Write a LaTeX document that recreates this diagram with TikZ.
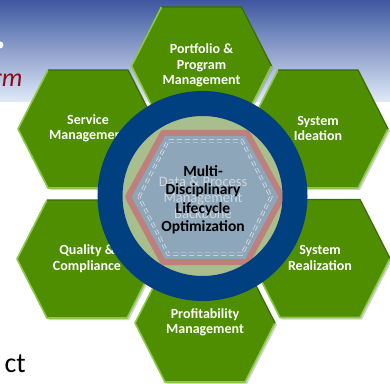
\documentclass[tikz,border=0pt]{standalone}
\usepackage{fontspec}
\setmainfont{Carlito}
\usetikzlibrary{shadows}
\definecolor{hexgreen}{RGB}{78,142,0}
\definecolor{hexlite}{RGB}{140,200,70}
\definecolor{hexdark}{RGB}{58,108,0}
\definecolor{ringblue}{RGB}{0,64,128}
\definecolor{diskgreen}{RGB}{168,190,140}
\definecolor{corefill}{RGB}{142,166,186}
\definecolor{corered}{RGB}{190,128,124}
\definecolor{dashwhite}{RGB}{225,230,236}
\definecolor{skytop}{RGB}{62,88,160}
\definecolor{skylow}{RGB}{224,234,248}
\definecolor{slidered}{RGB}{140,10,25}
\tikzset{hexcell/.style={fill=hexgreen,drop shadow={shadow xshift=2pt,shadow yshift=-2pt,opacity=0.35}}}
\tikzset{hexlabel/.style={align=center,text=white,font=\fontsize{14}{15.5}\selectfont\bfseries}}
\tikzset{coretext/.style={align=center,text=black,font=\fontsize{15.5}{18.5}\selectfont\bfseries}}
\tikzset{fadedtext/.style={align=center,text=white,text opacity=0.55,font=\fontsize{14.5}{16}\selectfont}}

\begin{document}
\begin{tikzpicture}[x=1pt,y=1pt]
\useasboundingbox (0,0) rectangle (390,383);

% slide behind the diagram
\fill[white] (0,0) rectangle (390,383);
\shade[top color=skytop,bottom color=skylow] (0,281) rectangle (390,383);
\node[circle,fill=white,inner sep=0pt,minimum size=7pt] (dot) at (0,338) {};
\node[anchor=base east,text=slidered,font=\fontsize{26}{30}\selectfont\itshape] (rm) at (26,296) {rm};
\node[anchor=base west,font=\fontsize{28}{32}\selectfont] (ct) at (1,11) {ct};

% six outer cells
\foreach \cx/\cy/\cname/\ctext in {
  201.5/317/port/{Portfolio \&\\Program\\Management},
  318/254/ideat/{System\\Ideation},
  320/124.5/realz/{System\\Realization},
  205/60/profit/{Profitability\\Management},
  87/124/qual/{Quality \&\\Compliance},
  88/254/servc/{Service\\Management}}{
  \begin{scope}[shift={(\cx,\cy)}]
    \path[hexcell] (-70,0) -- (-40,59) -- (40,59) -- (70,0) -- (40,-59) -- (-40,-59) -- cycle;
    \draw[hexlite,line width=1.6pt,line join=round] (-40,59) -- (-70,0) -- (-40,-59) -- (40,-59) -- (70,0);
    \draw[hexdark,line width=1.2pt,line join=round] (70,0) -- (40,59) -- (-40,59);
    \node[hexlabel] (\cname) at (0,0.5) {\ctext};
  \end{scope}
}

% core
\fill[diskgreen] (202.5,187) circle (81);
\begin{scope}
  \clip (202.5,187) circle (80);
  \draw[corered,line width=6pt,fill=corefill,line join=round]
    (128,186) -- (163,250) -- (247,250) -- (282,186) -- (247,121) -- (163,121) -- cycle;
  \draw[dashwhite,double=corefill,double distance=1.6pt,line width=0.7pt,dash pattern=on 5pt off 3pt]
    (139,186) -- (168,242) -- (242,242) -- (271,186) -- (242,129) -- (168,129) -- cycle;
\end{scope}
\draw[ringblue,line width=25pt] (202.5,187) circle (92.5);

\node[fadedtext] (backbone) at (203,185) {Data \& Process\\Management\\Backbone};
\node[coretext] (optim) at (203,183) {Multi-\\Disciplinary\\Lifecycle\\Optimization};

\end{tikzpicture}
\end{document}
